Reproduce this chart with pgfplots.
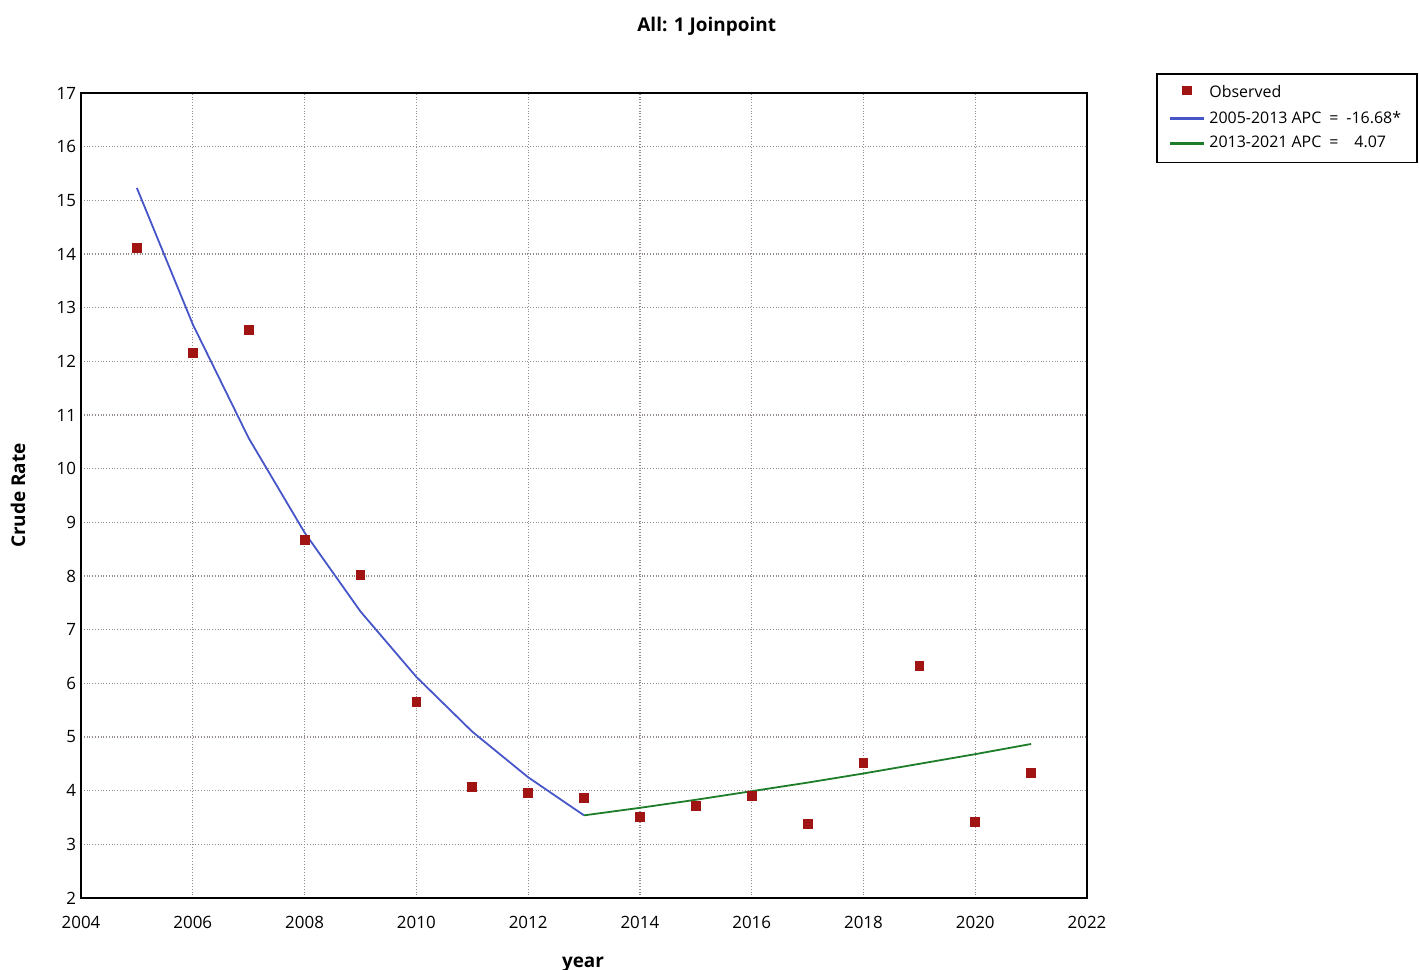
\documentclass[border=0pt]{standalone}
\usepackage{fontspec}
\setmainfont{Open Sans}
\usepackage{pgfplots}
\pgfplotsset{compat=1.18}
\definecolor{obs}{RGB}{160,20,20}
\definecolor{bl}{RGB}{70,85,200}
\definecolor{gr}{RGB}{30,125,40}
\definecolor{gridc}{RGB}{150,140,140}
\begin{document}
\begin{tikzpicture}
\useasboundingbox (-40.5bp,-36bp) rectangle (669bp,449bp);
\begin{axis}[
  at={(0,0)}, anchor=origin,
  scale only axis,
  width=503bp, height=402.5bp,
  xmin=2004, xmax=2022, ymin=2, ymax=17,
  xtick={2004,2006,...,2022}, ytick={2,3,...,17},
  /pgf/number format/assume math mode=true,
  xticklabel style={/pgf/number format/1000 sep={}, font=\fontsize{8.5}{10}\selectfont, yshift=-5.5bp},
  yticklabel style={font=\fontsize{8.5}{10}\selectfont, xshift=1bp},
  major tick length=0pt,
  grid=major,
  major grid style={gridc, densely dotted, line width=0.6bp},
  axis line style={black, line width=1bp},
  title={\textbf{All: 1 Joinpoint}},
  title style={at={(0.622,1)}, anchor=center, yshift=27bp, font=\fontsize{9.5}{11}\selectfont},
  xlabel={\textbf{year}},
  xlabel style={at={(0.499,0)}, anchor=center, yshift=-33.5bp, font=\fontsize{9.5}{11}\selectfont},
  ylabel={\textbf{Crude Rate}},
  ylabel style={at={(0,0.5)}, anchor=center, yshift=31.5bp, font=\fontsize{9.5}{11}\selectfont},
  legend style={at={(1.0686,1.0248)}, anchor=north west, draw=black, line width=0.8bp,
    font=\fontsize{8}{9.5}\selectfont, inner xsep=6bp, inner ysep=4bp,
    row sep=1bp},
  legend image post style={line width=1.3bp},
  legend cell align=left,
  clip=false,
]
\addplot[only marks, mark=square*, mark size=2.2bp, obs, mark options={fill=obs, draw=obs},
  legend image post style={mark size=1.7bp, yshift=1.5bp}]
coordinates {
(2005,14.11) (2006,12.16) (2007,12.58) (2008,8.67) (2009,8.02) (2010,5.65)
(2011,4.07) (2012,3.96) (2013,3.86) (2014,3.51) (2015,3.71) (2016,3.90)
(2017,3.38) (2018,4.52) (2019,6.32) (2020,3.42) (2021,4.33)
};
\addlegendentry{Observed}
\addplot[bl, line width=0.9bp, no marks]
coordinates {
(2005,15.23) (2006,12.69) (2007,10.57) (2008,8.81) (2009,7.34) (2010,6.12)
(2011,5.10) (2012,4.25) (2013,3.54)
};
\addlegendentry{2005-2013 APC\hspace{4bp}=\hspace{4bp}-16.68*}
\addplot[gr, line width=0.9bp, no marks]
coordinates {
(2013,3.54) (2014,3.68) (2015,3.83) (2016,3.99) (2017,4.15) (2018,4.32)
(2019,4.50) (2020,4.68) (2021,4.87)
};
\addlegendentry{2013-2021 APC\hspace{4bp}=\hspace{8bp}4.07}
\end{axis}
\end{tikzpicture}
\end{document}
